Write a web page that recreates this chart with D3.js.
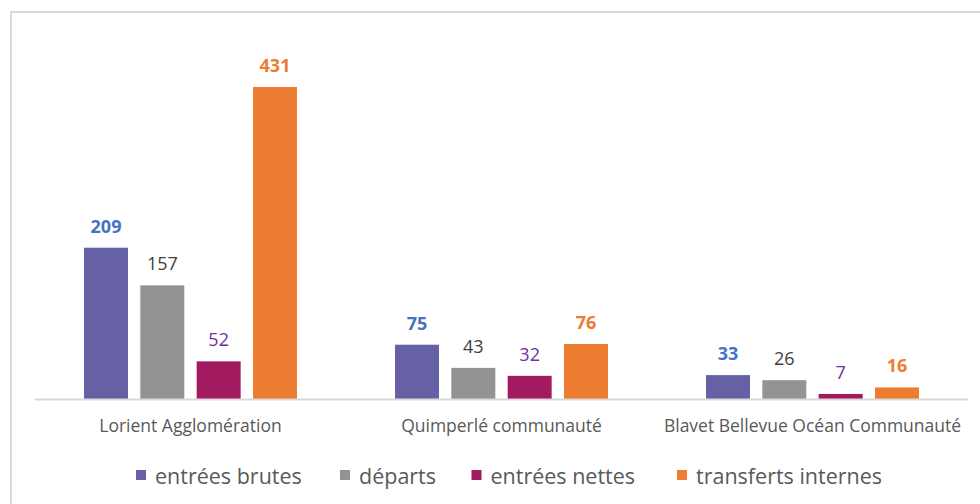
<!DOCTYPE html>
<html>
<head>
<meta charset="utf-8">
<script src="https://cdn.jsdelivr.net/npm/d3@7"></script>
<style>
  body { margin: 0; background: #fff; }
  svg { font-family: "Open Sans", sans-serif; }
</style>
</head>
<body>
<div id="chart"></div>
<script>
// Data
const categories = ["Lorient Agglomération", "Quimperlé communauté", "Blavet Bellevue Océan Communauté"];
const series = ["entrées brutes", "départs", "entrées nettes", "transferts internes"];
const entreesBrutes = [209, 75, 33];
const departs = [157, 43, 26];
const entreesNettes = [52, 32, 7];
const transferts = [431, 76, 16];

const values = [entreesBrutes, departs, entreesNettes, transferts];
const barColors = ["#6661a5", "#939393", "#a21a60", "#ed7d31"];
const labelColors = ["#4472c4", "#404040", "#7030a0", "#ed7d31"];
const labelWeights = ["bold", "normal", "normal", "bold"];

const data = [];
categories.forEach((c, i) => {
  series.forEach((s, j) => {
    data.push({ cat: c, serie: s, value: values[j][i], k: j });
  });
});

const W = 980, H = 504;
const margin = { top: 87, left: 35, right: 12, bottom: 105 };
const width = W - margin.left - margin.right;
const height = H - margin.top - margin.bottom;
const groupWidth = 213;

const svg = d3.select("#chart").append("svg")
  .attr("width", W)
  .attr("height", H);

// Frame
svg.append("rect")
  .attr("x", 11)
  .attr("y", 12)
  .attr("width", W + 10)
  .attr("height", H + 10)
  .attr("fill", "none")
  .attr("stroke", "#d9d9d9")
  .attr("stroke-width", 2);

const g = svg.append("g")
  .attr("transform", `translate(${margin.left},${margin.top})`);

const x0 = d3.scaleBand()
  .domain(categories)
  .range([0, width])
  .padding(0);

const x1 = d3.scaleBand()
  .domain(series)
  .range([0, groupWidth])
  .paddingInner(0.219)
  .paddingOuter(0);

const y = d3.scaleLinear()
  .domain([0, 431])
  .range([height, 0]);

const offset = (x0.bandwidth() - groupWidth) / 2;

// Bars
g.selectAll(".bar")
  .data(data)
  .enter()
  .append("rect")
  .attr("x", d => x0(d.cat) + offset + x1(d.serie))
  .attr("y", d => y(d.value))
  .attr("width", x1.bandwidth())
  .attr("height", d => height - y(d.value))
  .attr("fill", d => barColors[d.k]);

// Value labels
g.selectAll(".lbl")
  .data(data)
  .enter()
  .append("text")
  .attr("x", d => x0(d.cat) + offset + x1(d.serie) + x1.bandwidth() / 2)
  .attr("y", d => y(d.value) - 15)
  .attr("text-anchor", "middle")
  .attr("font-size", 18)
  .attr("font-weight", d => labelWeights[d.k])
  .attr("fill", d => labelColors[d.k])
  .text(d => d.value);

// Baseline
g.append("line")
  .attr("x1", 0)
  .attr("x2", width)
  .attr("y1", height + 0.5)
  .attr("y2", height + 0.5)
  .attr("stroke", "#d9d9d9")
  .attr("stroke-width", 2);

// Category labels
const xAxis = g.append("g")
  .attr("transform", `translate(0,${height})`)
  .call(d3.axisBottom(x0).tickSize(0).tickPadding(21));
xAxis.select(".domain").remove();
xAxis.selectAll("text")
  .attr("font-family", "Open Sans, sans-serif")
  .attr("font-size", 17.5)
  .attr("fill", "#595959");

// Legend
const legendX = [136, 340, 471.5, 677];
const legend = svg.append("g");
series.forEach((s, i) => {
  legend.append("rect")
    .attr("x", legendX[i])
    .attr("y", 470)
    .attr("width", 10)
    .attr("height", 10)
    .attr("fill", barColors[i]);
  legend.append("text")
    .attr("x", legendX[i] + 19)
    .attr("y", 475)
    .attr("dominant-baseline", "central")
    .attr("font-size", 21.5)
    .attr("fill", "#595959")
    .text(s);
});
</script>
</body>
</html>
